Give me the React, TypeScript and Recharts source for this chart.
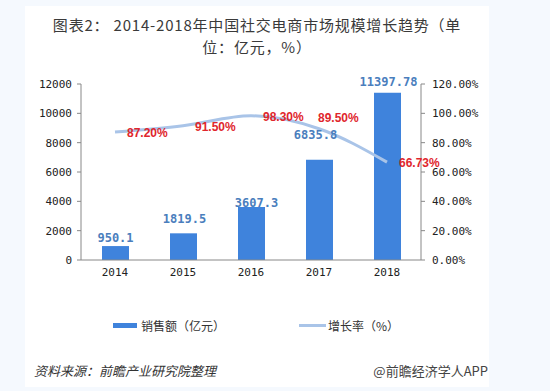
import { ComposedChart, Bar, Line, XAxis, YAxis, LabelList, Legend } from "recharts";

// 2014-2018 social e-commerce market
const years = ["2014", "2015", "2016", "2017", "2018"];
const sales = [950.1, 1819.5, 3607.3, 6835.8, 11397.78];
const growth = [87.2, 91.5, 98.3, 89.5, 66.73];
const salesText = ["950.1", "1819.5", "3607.3", "6835.8", "11397.78"];
const growthText = ["87.20%", "91.50%", "98.30%", "89.50%", "66.73%"];
const salesTicks = [0, 2000, 4000, 6000, 8000, 10000, 12000];
const growthTicks = [0, 20, 40, 60, 80, 100, 120];
const titleLines = ["图表2： 2014-2018年中国社交电商市场规模增长趋势（单", "位：亿元，%）"];

const data = years.map((year, i) => ({ year, sales: sales[i], growth: growth[i] }));

const monoFont = "'DejaVu Sans Mono', 'Liberation Mono', monospace";
const cjkFont = "'Noto Sans CJK SC', 'Noto Sans', sans-serif";

// hand-placed label nudges, like the excel original
const barNudge = [
  { dx: 0, lift: 8 },
  { dx: 1, lift: 15 },
  { dx: 5, lift: 4 },
  { dx: -4, lift: 25 },
  { dx: 1, lift: 11 },
];

const BarValue = (props: any) => {
  const { x, y, width, index } = props;
  const n = barNudge[index] || { dx: 0, lift: 8 };
  return (
    <text
      x={x + width / 2 + n.dx}
      y={y - n.lift}
      dy="0.35em"
      textAnchor="middle"
      fontFamily={monoFont}
      fontWeight="bold"
      fontSize={12}
      fill="#4a7ebd"
    >
      {salesText[index]}
    </text>
  );
};

const GrowthValue = (props: any) => {
  const { x, y, index } = props;
  let dx = 12;
  let dy = 1;
  if (index === 3) {
    dx = -1;
    dy = -11;
  }
  return (
    <text
      x={x + dx}
      y={y + dy}
      dy="0.35em"
      textAnchor="start"
      fontFamily="'Liberation Sans', Arial, sans-serif"
      fontWeight="bold"
      fontSize={12}
      fill="#e0262c"
    >
      {growthText[index]}
    </text>
  );
};

const LegendBox = (props: any) => {
  // bars first, then the line
  const items = [...(props.payload || [])].sort(
    (a: any, b: any) => (a.type === "line" ? 1 : 0) - (b.type === "line" ? 1 : 0)
  );
  return (
    <div style={{ display: "flex", alignItems: "center", paddingLeft: 88, height: 16, fontFamily: cjkFont, fontSize: 12, color: "#333" }}>
      {items.map((it: any, i: number) => (
        <div key={i} style={{ display: "flex", alignItems: "center", marginLeft: i === 0 ? 0 : 74 }}>
          {it.type === "line" ? (
            <div style={{ width: 27, height: 3, background: "#a9c4e8", marginRight: 2 }} />
          ) : (
            <div style={{ width: 24, height: 5, background: "#3f83dc", marginRight: 4 }} />
          )}
          <span>{it.value}</span>
        </div>
      ))}
    </div>
  );
};

export default function App() {
  return (
    <div style={{ position: "absolute", left: 0, top: 0, width: 550, height: 391, background: "#f5f9fe" }}>
      <div style={{ position: "absolute", left: 25, top: 6, width: 464, height: 381, background: "#ffffff" }}>
        {titleLines.map((t, i) => (
          <div
            key={i}
            style={{
              position: "absolute",
              left: 0,
              top: 8 + i * 22,
              width: 464,
              height: 22,
              textAlign: "center",
              fontFamily: cjkFont,
              fontSize: 15,
              letterSpacing: 0.8,
              lineHeight: "22px",
              color: "#3a3a3a",
              whiteSpace: "nowrap",
            }}
          >
            {t}
          </div>
        ))}

        <ComposedChart width={464} height={381} data={data} margin={{ top: 78, right: 0, bottom: 97, left: 0 }}>
          <XAxis
            dataKey="year"
            axisLine={{ stroke: "#888" }}
            tickLine={false}
            tickSize={6}
            tickMargin={2}
            height={30}
            tick={{ fontSize: 11, fill: "#222", fontFamily: monoFont }}
          />
          <YAxis
            yAxisId="left"
            domain={[0, 12000]}
            ticks={salesTicks}
            interval={0}
            width={56}
            tickSize={4}
            tickMargin={5}
            axisLine={{ stroke: "#888" }}
            tickLine={{ stroke: "#888" }}
            tick={{ fontSize: 11, fill: "#222", fontFamily: monoFont }}
          />
          <YAxis
            yAxisId="right"
            orientation="right"
            domain={[0, 120]}
            ticks={growthTicks}
            interval={0}
            width={68}
            tickSize={4}
            tickMargin={7}
            tickFormatter={(v: number) => v.toFixed(2) + "%"}
            axisLine={{ stroke: "#888" }}
            tickLine={{ stroke: "#888" }}
            tick={{ fontSize: 11, fill: "#222", fontFamily: monoFont }}
          />
          <Legend
            layout="horizontal"
            verticalAlign="middle"
            align="center"
            wrapperStyle={{ top: 311, left: 0, width: 464 }}
            content={<LegendBox />}
          />
          <Bar yAxisId="left" dataKey="sales" name="销售额（亿元）" fill="#3f83dc" barSize={27} isAnimationActive={false}>
            <LabelList dataKey="sales" content={<BarValue />} />
          </Bar>
          <Line
            yAxisId="right"
            type="monotone"
            dataKey="growth"
            name="增长率（%）"
            stroke="#a9c4e8"
            strokeWidth={3}
            dot={false}
            activeDot={false}
            isAnimationActive={false}
          >
            <LabelList dataKey="growth" content={<GrowthValue />} />
          </Line>
        </ComposedChart>

        <div style={{ position: "absolute", left: 9, top: 355, fontFamily: cjkFont, fontSize: 13, fontStyle: "italic", color: "#333" }}>
          资料来源：前瞻产业研究院整理
        </div>
        <div style={{ position: "absolute", right: 1, top: 355, fontFamily: cjkFont, fontSize: 13, color: "#444" }}>
          @前瞻经济学人APP
        </div>
      </div>
    </div>
  );
}
